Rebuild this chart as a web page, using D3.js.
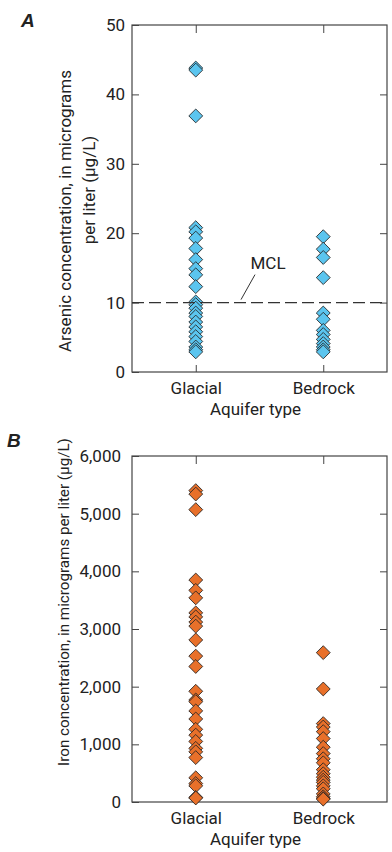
<!DOCTYPE html>
<html>
<head>
<meta charset="utf-8">
<script src="https://cdn.jsdelivr.net/npm/d3@7"></script>
<style>
  body { margin: 0; background: #fff; }
  text { font-family: Roboto, "Liberation Sans", sans-serif; fill: #222; }
</style>
</head>
<body>
<div id="chart"></div>
<script>
const categories = ["Glacial", "Bedrock"];

// arsenic, ug/L
const arsenicGlacial = [43.8, 43.5, 36.9, 20.8, 20.2, 19.3, 17.8, 16.2, 14.9, 14.0, 12.3, 10.1, 9.7, 9.2, 8.5, 8.0, 7.2, 6.5, 5.8, 5.1, 4.4, 3.6, 3.2, 2.9];
const arsenicBedrock = [19.5, 17.7, 16.5, 13.6, 8.5, 7.6, 6.0, 5.4, 4.7, 4.1, 3.6, 3.2, 2.9];
const arsenicTicks = [0, 10, 20, 30, 40, 50];
const mcl = 10;

// iron, ug/L
const ironGlacial = [5400, 5340, 5070, 3850, 3670, 3540, 3280, 3210, 3120, 3050, 2810, 2530, 2350, 1920, 1770, 1740, 1580, 1440, 1260, 1160, 1050, 930, 870, 770, 420, 320, 280, 80, 70];
const ironBedrock = [2590, 1960, 1360, 1300, 1220, 1100, 950, 840, 750, 680, 560, 490, 430, 380, 340, 280, 230, 140, 90, 60, 50];
const ironTicks = [0, 1000, 2000, 3000, 4000, 5000, 6000];

const svg = d3.select("#chart").append("svg")
    .attr("width", 392)
    .attr("height", 852);

const left = 132, right = 387;

const x = d3.scalePoint()
    .domain(categories)
    .range([left, right])
    .padding(0.5);

const diamond = d3.symbol(d3.symbolSquare).size(96);

function drawPanel(opt) {
    const y = d3.scaleLinear().domain(opt.domain).range([opt.bottom, opt.top]);
    const g = svg.append("g");

    // frame
    g.append("rect")
        .attr("x", left).attr("y", opt.top)
        .attr("width", right - left).attr("height", opt.bottom - opt.top)
        .attr("fill", "none").attr("stroke", "#444").attr("stroke-width", 1.2);

    const yAxis = g.append("g")
        .attr("transform", `translate(${left},0)`)
        .call(d3.axisLeft(y).tickValues(opt.ticks).tickSize(-7).tickPadding(opt.pad).tickFormat(opt.fmt));
    yAxis.select(".domain").remove();
    yAxis.selectAll("text").style("font-size", "17px").attr("fill", "#222");
    yAxis.selectAll("line").attr("stroke", "#444");

    const yRight = g.append("g")
        .attr("transform", `translate(${right},0)`)
        .call(d3.axisRight(y).tickValues(opt.ticks.slice(1, -1)).tickSize(-7).tickFormat(""));
    yRight.select(".domain").remove();
    yRight.selectAll("line").attr("stroke", "#444");

    const xTop = g.append("g")
        .attr("transform", `translate(0,${opt.top})`)
        .call(d3.axisTop(x).tickSize(-8).tickFormat(""));
    xTop.select(".domain").remove();
    xTop.selectAll("line").attr("stroke", "#444");

    const xBottom = g.append("g")
        .attr("transform", `translate(0,${opt.bottom})`)
        .call(d3.axisBottom(x).tickSize(-7).tickPadding(10));
    xBottom.select(".domain").remove();
    xBottom.selectAll("line").attr("stroke", "#444");
    xBottom.selectAll("text").style("font-size", "17px").attr("fill", "#222");

    g.append("text")
        .attr("x", (left + right) / 2 - 4)
        .attr("y", opt.bottom + 43)
        .attr("text-anchor", "middle")
        .style("font-size", "17px")
        .text("Aquifer type");

    // points
    opt.series.forEach((vals, i) => {
        g.append("g").selectAll("path")
            .data(vals)
            .enter().append("path")
            .attr("d", diamond)
            .attr("transform", d => `translate(${x(categories[i])},${y(d)}) rotate(45)`)
            .attr("fill", opt.color)
            .attr("stroke", "#222")
            .attr("stroke-width", 0.8);
    });

    // panel letter
    g.append("text")
        .attr("x", opt.letterX).attr("y", opt.letterY)
        .style("font-family", "'Liberation Sans', Arial, sans-serif")
        .style("font-size", "19px")
        .style("font-weight", "bold")
        .style("font-style", "italic")
        .text(opt.letter);

    // y label
    opt.ylabel.forEach(l => {
        g.append("text")
            .attr("transform", `translate(${l.x},${l.y}) rotate(-90)`)
            .attr("text-anchor", "middle")
            .style("font-size", l.size + "px")
            .text(l.text);
    });

    return { g, y };
}

const a = drawPanel({
    domain: [0, 50], top: 25, bottom: 372, ticks: arsenicTicks, pad: 7,
    fmt: d3.format("d"), series: [arsenicGlacial, arsenicBedrock],
    color: "#5bc5ef", letter: "A", letterX: 21, letterY: 27,
    ylabel: [
        { x: 71, y: 211, size: 17, text: "Arsenic concentration, in micrograms" },
        { x: 95, y: 190, size: 17, text: "per liter (µg/L)" }
    ]
});

// MCL line
const yMcl = a.y(mcl);
a.g.append("line")
    .attr("x1", left).attr("x2", right)
    .attr("y1", yMcl).attr("y2", yMcl)
    .attr("stroke", "#333").attr("stroke-width", 1.3)
    .attr("stroke-dasharray", "12,5");
a.g.append("line")
    .attr("x1", 241).attr("y1", yMcl - 3)
    .attr("x2", 255).attr("y2", yMcl - 28)
    .attr("stroke", "#333").attr("stroke-width", 1);
a.g.append("text")
    .attr("x", 268).attr("y", yMcl - 34)
    .attr("text-anchor", "middle")
    .style("font-size", "17px")
    .text("MCL");

drawPanel({
    domain: [0, 6000], top: 456, bottom: 802, ticks: ironTicks, pad: 11,
    fmt: d3.format(","), series: [ironGlacial, ironBedrock],
    color: "#e8702a", letter: "B", letterX: 7, letterY: 447,
    ylabel: [
        { x: 69, y: 602, size: 15.2, text: "Iron concentration, in micrograms per liter (µg/L)" }
    ]
});
</script>
</body>
</html>
